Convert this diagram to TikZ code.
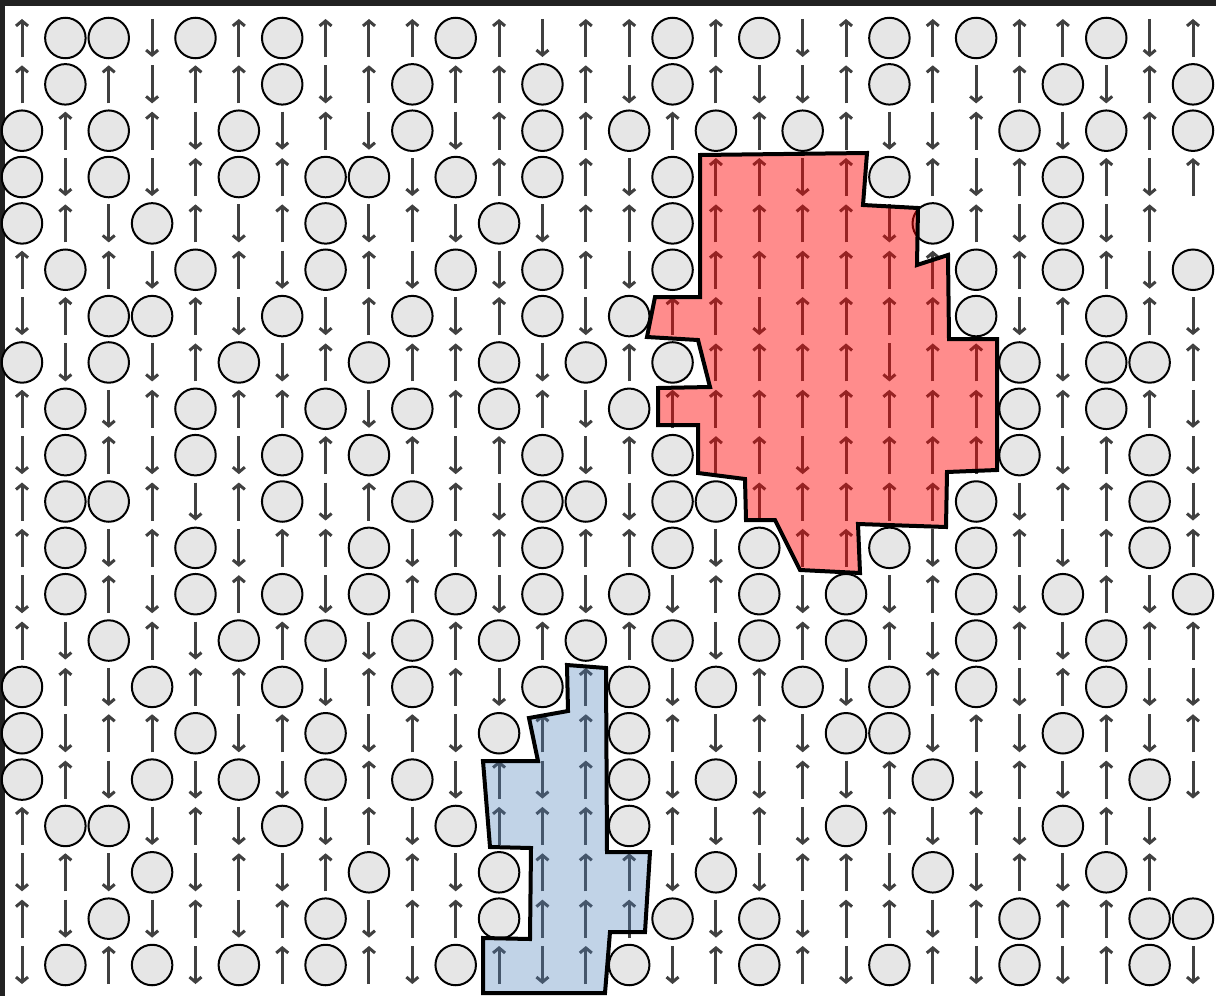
\documentclass[tikz,border=0pt]{standalone}
\usepackage{tikz}
\usetikzlibrary{arrows.meta}
\usepackage{xcolor}
\definecolor{FrameDark}{HTML}{222222}
\definecolor{SpinGray}{HTML}{404040}
\definecolor{HoleFill}{HTML}{E6E6E6}
\definecolor{ClusterRed}{HTML}{FF0000}
\definecolor{ClusterBlue}{HTML}{4F81BD}
\tikzset{
    % Lattice styles
    spin/.style={
        -{Straight Barb[length=5pt,width=12pt]},
        line width=3pt,
        draw=SpinGray
    },
    hole/.style={
        circle,
        draw=black,
        fill=HoleFill,
        line width=2pt,
        minimum size=40.5pt,
        inner sep=0pt
    },
    % Cluster outlines
    redcluster/.style={
        draw=black,
        line width=4pt,
        fill=ClusterRed,
        fill opacity=0.45
    },
    bluecluster/.style={
        draw=black,
        line width=4pt,
        fill=ClusterBlue,
        fill opacity=0.35
    }
}
% one macro per cell type: #1 column, #2 row
\newcommand{\cellU}[2]{\draw[spin] (#1,#2+0.41) -- (#1,#2-0.41);}
\newcommand{\cellD}[2]{\draw[spin] (#1,#2-0.41) -- (#1,#2+0.41);}
\newcommand{\cellO}[2]{\node[hole] (v#2-#1) at (#1,#2) {};}
\newcommand{\cellE}[2]{}

\begin{document}
\begin{tikzpicture}[x=1pt, y=-1pt]
    \useasboundingbox (0,0) rectangle (1216,996);
    \fill[FrameDark] (0,0) rectangle (1216,996);
    \fill[white] (5,6) rectangle (1216,996);

    % Lattice
    \begin{scope}[xshift=22pt, yshift=-38pt, x=43.37pt, y=-46.35pt]
    \foreach \row [count=\r from 0] in {
        {U,O,O,D,O,U,O,U,U,U,O,U,D,U,U,O,U,O,D,U,O,U,O,U,U,O,D,U},
        {U,O,U,D,U,U,O,D,U,O,U,U,O,U,D,O,U,D,D,U,O,U,D,U,O,D,U,O},
        {O,U,O,U,D,O,D,U,D,O,D,U,O,U,O,U,O,U,O,U,D,D,U,O,D,O,U,O},
        {O,D,O,D,U,O,U,O,O,D,O,U,O,U,D,O,U,U,D,U,O,U,D,U,O,U,D,U},
        {O,U,D,O,U,D,U,O,D,U,D,O,D,U,U,O,U,U,U,U,D,O,U,D,O,D,U,E},
        {U,O,U,D,O,U,D,O,U,D,O,D,O,U,D,O,U,U,U,U,U,U,O,U,O,U,D,O},
        {D,U,O,O,U,D,O,D,U,O,D,U,O,D,O,U,U,D,U,U,U,U,O,D,U,O,U,D},
        {O,D,O,D,U,O,D,U,O,U,U,O,D,O,U,O,U,U,U,U,D,U,U,O,D,O,O,U},
        {U,O,D,U,O,U,U,O,D,O,U,O,U,D,O,U,U,U,U,U,U,U,U,O,U,O,U,D},
        {D,O,U,D,O,D,O,U,O,U,D,U,O,D,U,O,U,U,D,U,U,U,U,O,D,U,O,D},
        {U,O,O,U,D,U,O,D,U,O,U,D,O,O,D,O,O,U,U,U,U,U,O,D,U,U,O,D},
        {U,O,D,U,O,D,U,U,O,D,U,U,O,U,U,O,D,O,U,U,O,D,O,U,D,U,O,U},
        {D,O,U,D,O,U,O,D,O,U,O,D,O,D,O,D,U,O,D,O,D,U,O,D,O,U,D,O},
        {U,D,O,U,D,O,U,O,D,O,U,O,U,O,U,O,D,O,U,O,U,D,O,U,D,O,U,U},
        {O,U,D,O,U,U,O,D,U,O,U,D,O,U,O,D,O,U,O,D,O,U,O,D,U,O,D,D},
        {O,D,U,U,O,D,U,O,D,U,D,O,U,U,O,U,D,U,D,O,O,D,U,D,O,U,D,U},
        {O,U,D,O,D,O,D,O,U,O,D,U,D,U,O,D,O,D,U,D,U,O,D,U,D,U,O,D},
        {U,O,O,D,U,D,O,D,U,D,O,U,U,U,O,U,D,U,D,O,U,D,U,D,O,U,D,E},
        {D,U,D,O,D,U,D,U,O,U,D,O,U,U,U,D,O,D,U,U,D,O,D,U,D,O,U,E},
        {U,D,O,D,U,D,U,O,D,U,U,O,U,U,U,O,D,O,D,U,U,D,U,O,U,U,O,O},
        {D,O,U,O,D,O,U,O,U,D,O,U,D,U,O,D,U,O,U,D,O,U,D,O,D,U,O,D}}
    {
        \foreach \s [count=\c from 0] in \row {
            \csname cell\s\endcsname{\c}{\r}
        }
    }
    \end{scope}

    % Clusters
    \draw[redcluster] (700,155) -- (867,153) -- (863,205) -- (918,208) -- (917,265)
        -- (948,255) -- (949,339) -- (997,339) -- (997,470) -- (947,472) -- (946,527)
        -- (858,524) -- (860,573) -- (800,570) -- (775,520) -- (746,520) -- (745,479)
        -- (698,473) -- (698,425) -- (658,425) -- (658,388) -- (710,387) -- (698,340)
        -- (647,337) -- (655,297) -- (700,297) -- cycle;
    \draw[bluecluster] (567,665) -- (606,668) -- (607,852) -- (650,852) -- (645,932)
        -- (610,932) -- (605,993) -- (483,993) -- (483,938) -- (530,939) -- (531,848)
        -- (490,847) -- (483,761) -- (538,761) -- (529,718) -- (568,711) -- cycle;
\end{tikzpicture}
\end{document}
